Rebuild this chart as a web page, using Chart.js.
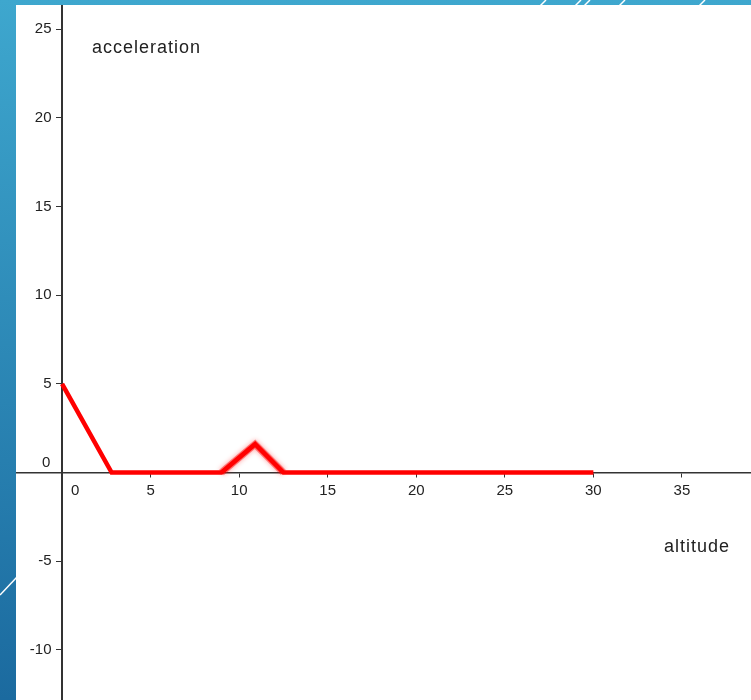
<!DOCTYPE html>
<html>
<head>
    <meta charset="UTF-8">
    <script src="https://cdn.jsdelivr.net/npm/chart.js"></script>
    <style>
        html, body { margin: 0; padding: 0; }
        body {
            width: 751px;
            height: 700px;
            overflow: hidden;
            position: relative;
            background: linear-gradient(to bottom, #3ea7ce, #1b6a9f);
        }
        #deco { position: absolute; left: 0; top: 0; }
        .plot {
            position: absolute;
            left: 16px;
            top: 5px;
            width: 735px;
            height: 695px;
            background: #fff;
        }
    </style>
</head>
<body>
    <svg id="deco" width="751" height="700">
        <g stroke="#fff" stroke-width="1.5">
            <line x1="540" y1="6" x2="546" y2="0"/>
            <line x1="575" y1="6" x2="581" y2="0"/>
            <line x1="584" y1="6" x2="590" y2="0"/>
            <line x1="619" y1="6" x2="625" y2="0"/>
            <line x1="699" y1="6" x2="705" y2="0"/>
            <line x1="0" y1="595" x2="17" y2="577"/>
        </g>
    </svg>
    <div class="plot">
        <canvas id="accelChart"></canvas>
    </div>

    <script>
        // values
        const altitude = [0, 2.8, 9.0, 10.9, 12.5, 30];
        const acceleration = [5, 0, 0, 1.6, 0, 0];
        // the highlighted bump
        const bumpAltitude = [9.0, 10.9, 12.5];
        const bumpAcceleration = [0, 1.6, 0];

        const xMin = -2.6, xMax = 38.9;
        const yMin = -12.83, yMax = 26.37;
        const tickStep = 5;

        const axisFont = { family: 'Liberation Sans, Arial, sans-serif', size: 15 };

        function toPoints(xs, ys) {
            return xs.map((x, i) => ({ x: x, y: ys[i] }));
        }

        // draws the two "0" labels and the axis names
        const labelsPlugin = {
            id: 'labels',
            beforeDatasetDraw(chart, args) {
                if (args.index !== 1) return;
                chart.ctx.save();
                chart.ctx.shadowColor = 'rgba(255, 0, 0, 0.8)';
                chart.ctx.shadowBlur = 5;
            },
            afterDatasetDraw(chart, args) {
                if (args.index === 1) chart.ctx.restore();
            },
            afterDraw(chart) {
                const ctx = chart.ctx;
                const xs = chart.scales.x, ys = chart.scales.y;
                const x0 = xs.getPixelForValue(0), y0 = ys.getPixelForValue(0);
                ctx.save();
                ctx.fillStyle = '#222';
                ctx.font = '15px Liberation Sans, Arial, sans-serif';
                ctx.textBaseline = 'middle';
                ctx.textAlign = 'center';
                ctx.fillText('0', x0 + 13, y0 + 18);
                ctx.fillText('0', x0 - 16, y0 - 10);
                ctx.font = '18px Liberation Sans, Arial, sans-serif';
                ctx.letterSpacing = '1px';
                ctx.textAlign = 'left';
                ctx.fillText('acceleration', 76, 43);
                ctx.fillText('altitude', 648, 542);
                ctx.restore();
            }
        };

        document.addEventListener('DOMContentLoaded', function() {
            const ctx = document.getElementById('accelChart').getContext('2d');
            window.accelChart = new Chart(ctx, {
                type: 'line',
                data: {
                    datasets: [{
                        data: toPoints(altitude, acceleration),
                        borderColor: 'rgb(255, 0, 0)',
                        borderWidth: 4.5,
                        pointRadius: 0,
                        tension: 0,
                        order: 1
                    }, {
                        data: toPoints(bumpAltitude, bumpAcceleration),
                        borderColor: 'rgba(255, 0, 0, 0.45)',
                        borderWidth: 7,
                        pointRadius: 0,
                        tension: 0,
                        order: 2
                    }]
                },
                options: {
                    responsive: true,
                    maintainAspectRatio: false,
                    animation: false,
                    layout: { padding: 0 },
                    plugins: {
                        legend: { display: false },
                        tooltip: { enabled: false }
                    },
                    scales: {
                        x: {
                            type: 'linear',
                            min: xMin,
                            max: xMax,
                            position: { y: 0 },
                            afterFit: (scale) => {
                                scale.height = 0;
                                scale.paddingLeft = 0;
                                scale.paddingRight = 0;
                            },
                            border: { color: '#333', width: 1.5 },
                            grid: { drawOnChartArea: false, drawTicks: true, tickLength: 4, color: '#333' },
                            ticks: {
                                stepSize: tickStep,
                                includeBounds: false,
                                maxRotation: 0,
                                padding: 5,
                                color: '#222',
                                font: axisFont,
                                callback: (v) => v === 0 ? '' : v
                            }
                        },
                        y: {
                            type: 'linear',
                            min: yMin,
                            max: yMax,
                            position: { x: 0 },
                            afterFit: (scale) => {
                                scale.width = 0;
                                scale.paddingTop = 0;
                                scale.paddingBottom = 0;
                            },
                            border: { color: '#333', width: 2 },
                            grid: { drawOnChartArea: false, drawTicks: true, tickLength: 5, color: '#333' },
                            ticks: {
                                stepSize: tickStep,
                                includeBounds: false,
                                color: '#222',
                                font: axisFont,
                                // labels of an axis placed at a value sit on the line, so leave a gap
                                callback: (v) => v === 0 ? '' : v + '\u2002\u2009'
                            }
                        }
                    }
                },
                plugins: [labelsPlugin]
            });
        });
    </script>
</body>
</html>
